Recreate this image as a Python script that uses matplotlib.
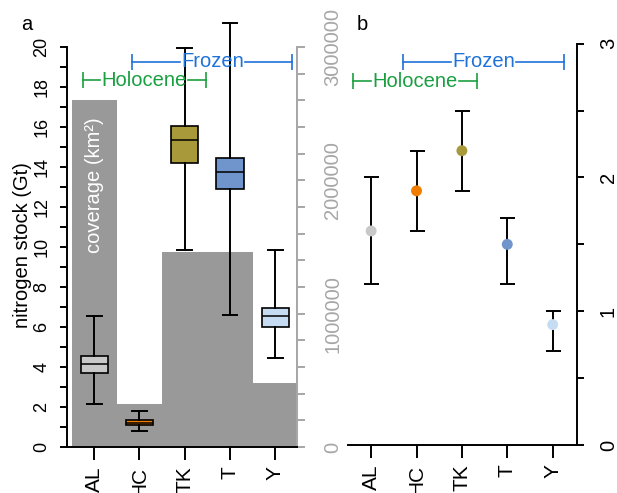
import matplotlib
matplotlib.use("Agg")
import matplotlib.pyplot as plt

plt.rcParams['font.family'] = ['Liberation Sans', 'DejaVu Sans']

categories = ["AL", "HC", "TK", "T", "Y"]

# panel a: coverage bars (km2) and nitrogen stock boxes (Gt)
coverage_km2 = [2600000, 322000, 1462000, 1462000, 480000]
box_lo = [2.17, 0.82, 9.85, 6.62, 4.47]
box_q1 = [3.68, 1.09, 14.22, 12.92, 5.98]
box_med = [4.15, 1.22, 15.33, 13.77, 6.53]
box_q3 = [4.57, 1.34, 16.07, 14.47, 6.97]
box_hi = [6.53, 1.82, 19.93, 21.18, 9.87]
cov_ticks = [0, 1000000, 2000000, 3000000]
cov_tick_labels = ["0", "1000000", "2000000", "3000000"]

# panel b: means with ranges
mean_val = [1.6, 1.9, 2.2, 1.5, 0.9]
mean_lo = [1.2, 1.6, 1.9, 1.2, 0.7]
mean_hi = [2.0, 2.2, 2.5, 1.7, 1.0]

colors = ["#C8C8C8", "#F07D00", "#A8993A", "#7094CC", "#C6DCF2"]
frozen_col = "#1F72D8"
holo_col = "#1AA040"
axis_gray = "#A6A6A6"
lw = 1.4

fig = plt.figure(figsize=(6.17, 4.93), dpi=100)
pos = list(range(1, len(categories) + 1))


def bracket(ax, x0, x1, y, label, color):
    t = ax.text((x0 + x1) / 2, y, label, color=color, ha='center', va='center',
                fontsize=14.5, clip_on=False, zorder=5)
    fig.canvas.draw()
    bb = t.get_window_extent().transformed(ax.transData.inverted())
    ax.plot([x0, bb.x0 - 0.03], [y, y], color=color, lw=1.2, clip_on=False)
    ax.plot([bb.x1 + 0.03, x1], [y, y], color=color, lw=1.2, clip_on=False)
    ax.plot([x0, x1], [y, y], ls='none', marker='|', ms=12, mew=1.2,
            color=color, clip_on=False)


# ---- panel a
ax = fig.add_axes([0.1086, 0.0933, 0.3728, 0.8114])
ax2 = ax.twinx()
ax.set_zorder(ax2.get_zorder() + 1)
ax.patch.set_visible(False)

ax2.bar(pos, coverage_km2, width=1.0, color="#999999", linewidth=0)
ax2.set_ylim(0, 3000000)
ax2.set_yticks(range(0, 3000001, 200000), minor=True)
ax2.set_yticks(cov_ticks)
ax2.set_yticklabels(cov_tick_labels, rotation=90, va='center')
for s in ['top', 'left', 'bottom']:
    ax2.spines[s].set_visible(False)
ax2.spines['right'].set_color(axis_gray)
ax2.spines['right'].set_linewidth(lw)
ax2.spines['right'].set_bounds(0, 3000000)
ax2.tick_params(axis='y', which='both', colors=axis_gray, width=lw, length=6)
ax2.tick_params(axis='y', labelsize=14.5, pad=13, labelcolor=axis_gray)

stats = []
for i in range(len(categories)):
    stats.append(dict(med=box_med[i], q1=box_q1[i], q3=box_q3[i],
                      whislo=box_lo[i], whishi=box_hi[i], fliers=[]))
bp = ax.bxp(stats, positions=pos, widths=0.6, capwidths=0.33,
            patch_artist=True, showfliers=False,
            boxprops=dict(linewidth=1.2, edgecolor='black'),
            medianprops=dict(color='black', linewidth=1.1),
            whiskerprops=dict(color='black', linewidth=lw),
            capprops=dict(color='black', linewidth=lw))
for patch, c in zip(bp['boxes'], colors):
    patch.set_facecolor(c)
for key in ['whiskers', 'caps', 'medians', 'boxes']:
    for art in bp[key]:
        art.set_clip_on(False)

ax.set_xlim(0.4, 5.48)
ax.set_ylim(0, 20)
ax.set_yticks(range(0, 21, 2))
ax.set_yticks(range(1, 20, 2), minor=True)
ax.tick_params(axis='y', which='both', width=lw, length=5)
ax.tick_params(axis='y', labelsize=13, labelrotation=90, pad=7)
ax.set_xticks(pos)
ax.set_xticklabels(categories, rotation=90)
ax.tick_params(axis='x', width=lw, length=9.5, labelsize=15, pad=4.5)
for lab in ax.get_yticklabels():
    lab.set_va('center')
ax.spines['top'].set_visible(False)
ax.spines['right'].set_visible(False)
ax.spines['left'].set_linewidth(lw)
ax.spines['bottom'].set_linewidth(lw)

ax.text(1, 13.1, "coverage (km²)", color='white', rotation=90,
        ha='center', va='center', fontsize=14.5)
fig.text(22.5 / 617, 1 - 245 / 493, "nitrogen stock (Gt)", rotation=90,
         ha='center', va='center', fontsize=14.5)
fig.text(26.5 / 617, 1 - 24.5 / 493, "a", ha='center', va='center', fontsize=14.5)

bracket(ax, 1.84, 5.38, 19.27, "Frozen", frozen_col)
bracket(ax, 0.75, 3.47, 18.33, "Holocene", holo_col)

# ---- panel b
bx = fig.add_axes([0.564, 0.0974, 0.3707, 0.814])
lo_err = [m - l for m, l in zip(mean_val, mean_lo)]
hi_err = [h - m for m, h in zip(mean_val, mean_hi)]
bx.errorbar(pos, mean_val, yerr=[lo_err, hi_err], fmt='none', ecolor='black',
            elinewidth=lw, capsize=5.4, capthick=lw)
bx.scatter(pos, mean_val, c=colors, s=62, zorder=3, linewidths=0)
bx.set_xlim(0.49, 5.53)
bx.set_ylim(0, 3)
bx.yaxis.tick_right()
bx.set_yticks([0, 1, 2, 3])
bx.set_yticks([0.5, 1.5, 2.5], minor=True)
bx.tick_params(axis='y', which='both', width=lw, length=5)
bx.tick_params(axis='y', labelsize=14.5, labelrotation=90, pad=11)
for lab in bx.get_yticklabels():
    lab.set_va('center')
bx.set_xticks(pos)
bx.set_xticklabels(categories, rotation=90)
bx.tick_params(axis='x', width=lw, length=9.5, labelsize=15, pad=4.5)
bx.spines['top'].set_visible(False)
bx.spines['left'].set_visible(False)
bx.spines['right'].set_linewidth(lw)
bx.spines['bottom'].set_linewidth(lw)
fig.text(362.5 / 617, 1 - 24.5 / 493, "b", ha='center', va='center', fontsize=14.5)

bracket(bx, 1.70, 5.26, 2.865, "Frozen", frozen_col)
bracket(bx, 0.61, 3.33, 2.72, "Holocene", holo_col)

fig.savefig("out.png", dpi=100)
